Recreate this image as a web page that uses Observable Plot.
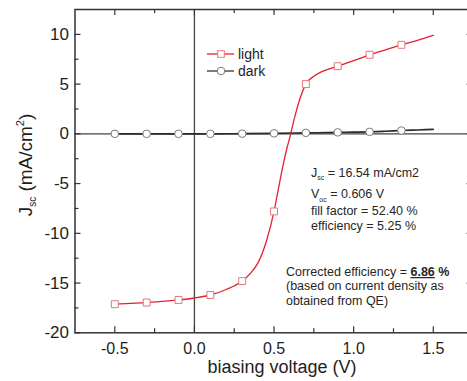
<!DOCTYPE html>
<html>
<head>
<meta charset="utf-8">
<script src="https://cdn.jsdelivr.net/npm/d3@7"></script>
<script src="https://cdn.jsdelivr.net/npm/@observablehq/plot@0.6"></script>
<style>
  html, body { margin: 0; padding: 0; background: #fff; }
  #chart svg { display: block; font-family: "Liberation Sans", Arial, sans-serif; }
</style>
</head>
<body>
<div id="chart"></div>
<script>
// ---- data ----
const lightV = [-0.5,-0.4,-0.3,-0.2,-0.1,0,0.1,0.2,0.3,0.35,0.4,0.45,0.5,0.53,0.56,0.58,0.6,0.63,0.66,0.7,0.75,0.8,0.9,1.0,1.1,1.2,1.3,1.4,1.5];
const lightJ = [-17.12,-17.05,-16.96,-16.85,-16.7,-16.5,-16.2,-15.65,-14.8,-14.05,-12.95,-10.9,-7.8,-5.3,-2.9,-1.5,-0.3,1.7,3.4,5.0,5.8,6.25,6.8,7.35,7.95,8.45,8.95,9.4,9.9];
const darkV = [-0.5,-0.3,-0.1,0.1,0.3,0.5,0.7,0.9,1.0,1.1,1.2,1.3,1.4,1.5];
const darkJ = [0,0,0,0,0.02,0.05,0.1,0.15,0.17,0.2,0.26,0.33,0.39,0.45];
const markerV = [-0.5,-0.3,-0.1,0.1,0.3,0.5,0.7,0.9,1.1,1.3];
const seriesNames = ["light", "dark"];
const xMajor = [-0.5, 0, 0.5, 1, 1.5];
const xTickLabels = ["-0.5", "0.0", "0.5", "1.0", "1.5"];
const xMinor = [-0.25, 0.25, 0.75, 1.25];
const yMajor = [-20, -15, -10, -5, 0, 5, 10];
const yTickLabels = ["-20", "-15", "-10", "-5", "0", "5", "10"];
const yMinor = [-17.5, -12.5, -7.5, -2.5, 2.5, 7.5];
const zeroLine = [0];
const xTitle = "biasing voltage (V)";
const statLabels = ["16.54 mA/cm2", "0.606 V", "52.40 %", "5.25 %"];
const correctedEff = "6.86";

// ---- tables ----
const light = lightV.map((v, i) => ({v, j: lightJ[i]}));
const dark = darkV.map((v, i) => ({v, j: darkJ[i]}));
const isMarker = d => markerV.some(m => Math.abs(m - d.v) < 1e-9);

const W = 467, H = 381;
const mL = 74.5, mR = -5.6, mT = 9, mB = 48.7;
const pw = W - mL - mR, ph = H - mT - mB;

const red = "#e3222d", redMarker = "#e8767d";
const darkLine = "#2b2b2b", darkMarker = "#7a7a7a";
const axisColor = "#333";
const textColor = "#1e1e1e";
const tickStyle = {stroke: axisColor, strokeWidth: 1.2};

const plot = Plot.plot({
  width: W,
  height: H,
  marginLeft: mL,
  marginRight: mR,
  marginTop: mT,
  marginBottom: mB,
  x: {domain: [-0.75, 1.75]},
  y: {domain: [-20, 12.5]},
  style: {fontFamily: '"Liberation Sans", Arial, sans-serif', color: textColor, background: "#fff", overflow: "hidden"},
  marks: [
    Plot.ruleY(zeroLine, {stroke: "#444", strokeWidth: 1.3}),
    Plot.ruleX(zeroLine, {stroke: "#444", strokeWidth: 1.3}),
    // inward ticks on all four sides
    Plot.tickX(xMajor, {x: d => d, insetTop: ph - 6, ...tickStyle}),
    Plot.tickX(xMinor, {x: d => d, insetTop: ph - 4, ...tickStyle}),
    Plot.tickX(xMajor, {x: d => d, insetBottom: ph - 6, ...tickStyle}),
    Plot.tickX(xMinor, {x: d => d, insetBottom: ph - 4, ...tickStyle}),
    Plot.tickY(yMajor, {y: d => d, insetRight: pw - 6, ...tickStyle}),
    Plot.tickY(yMinor, {y: d => d, insetRight: pw - 4, ...tickStyle}),
    Plot.tickY(yMajor, {y: d => d, insetLeft: pw - 6, ...tickStyle}),
    Plot.tickY(yMinor, {y: d => d, insetLeft: pw - 4, ...tickStyle}),
    // tick labels
    Plot.axisX(xMajor, {anchor: "bottom", tickSize: 0, tickPadding: 10, fontSize: 16, label: null,
      tickFormat: d => xTickLabels[xMajor.indexOf(d)], fill: textColor}),
    Plot.axisY(yMajor, {anchor: "left", tickSize: 0, tickPadding: 6, fontSize: 17, label: null,
      tickFormat: d => yTickLabels[yMajor.indexOf(d)], fill: textColor}),
    Plot.frame({stroke: axisColor, strokeWidth: 1.5}),
    // dark series
    Plot.line(dark, {x: "v", y: "j", stroke: darkLine, strokeWidth: 1.6, curve: "monotone-x"}),
    Plot.dot(dark.filter(isMarker), {x: "v", y: "j", r: 3.8, fill: "white", stroke: darkMarker, strokeWidth: 1}),
    // light series
    Plot.line(light, {x: "v", y: "j", stroke: red, strokeWidth: 1.3, curve: "monotone-x"}),
    Plot.dot(light.filter(isMarker), {x: "v", y: "j", symbol: "square", r: 3.9, fill: "white", stroke: redMarker, strokeWidth: 1})
  ]
});

document.getElementById("chart").appendChild(plot);

// ---- text and legend added onto the same SVG ----
const svg = d3.select(plot);
const sx = plot.scale("x");
const font = '"Liberation Sans", Arial, sans-serif';

// y-axis title
const yt = svg.append("text")
  .attr("transform", "translate(32,165) rotate(-90)")
  .attr("text-anchor", "middle")
  .attr("font-family", font).attr("font-size", 19).attr("fill", textColor);
yt.append("tspan").text("J");
yt.append("tspan").attr("font-size", 10).attr("dy", 4).text("sc");
yt.append("tspan").attr("dy", -4).text(" (mA/cm");
yt.append("tspan").attr("font-size", 11).attr("dy", -8).text("2");
yt.append("tspan").attr("dy", 8).text(")");

// x-axis title
svg.append("text")
  .attr("x", 282).attr("y", 373)
  .attr("text-anchor", "middle")
  .attr("font-family", font).attr("font-size", 18).attr("fill", textColor)
  .text(xTitle);

// legend
const legendRows = [
  {name: seriesNames[0], y: 54, stroke: red, mk: redMarker, symbol: "square"},
  {name: seriesNames[1], y: 71, stroke: "#333", mk: darkMarker, symbol: "circle"}
];
for (const row of legendRows) {
  svg.append("line").attr("x1", 207).attr("x2", 234).attr("y1", row.y).attr("y2", row.y)
    .attr("stroke", row.stroke).attr("stroke-width", 1.3);
  if (row.symbol === "square") {
    svg.append("rect").attr("x", 221 - 3.3).attr("y", row.y - 3.3).attr("width", 6.6).attr("height", 6.6)
      .attr("fill", "white").attr("stroke", row.mk).attr("stroke-width", 1);
  } else {
    svg.append("circle").attr("cx", 221).attr("cy", row.y).attr("r", 3.8)
      .attr("fill", "white").attr("stroke", row.mk).attr("stroke-width", 1);
  }
  svg.append("text").attr("x", 238).attr("y", row.y).attr("dy", "0.36em")
    .attr("text-anchor", "start")
    .attr("font-family", font).attr("font-size", 14).attr("fill", textColor).text(row.name);
}

// statistics block
const statX = sx.apply(0.735);
const statFont = 12.5;
function statLine(x, y) {
  return svg.append("text").attr("x", x).attr("y", y)
    .attr("text-anchor", "start")
    .attr("font-family", font).attr("font-size", statFont).attr("fill", "#262626");
}
let t = statLine(statX, 176.7);
t.append("tspan").text("J");
t.append("tspan").attr("font-size", 7).attr("dy", 3.5).text("sc");
t.append("tspan").attr("dy", -3.5).text(" = " + statLabels[0]);
t = statLine(statX, 198);
t.append("tspan").text("V");
t.append("tspan").attr("font-size", 7).attr("dy", 3.5).text("oc");
t.append("tspan").attr("dy", -3.5).text(" = " + statLabels[1]);
statLine(statX, 215).text("fill factor = " + statLabels[2]);
statLine(statX, 230).text("efficiency = " + statLabels[3]);

// corrected efficiency block
const corrX = sx.apply(0.578);
t = statLine(corrX, 276);
t.append("tspan").text("Corrected efficiency = ");
t.append("tspan").attr("font-weight", "bold").attr("text-decoration", "underline").text(correctedEff);
t.append("tspan").attr("font-weight", "bold").text(" %");
statLine(corrX, 290.3).text("(based on current density as");
statLine(corrX, 304.6).text("obtained from QE)");
</script>
</body>
</html>
